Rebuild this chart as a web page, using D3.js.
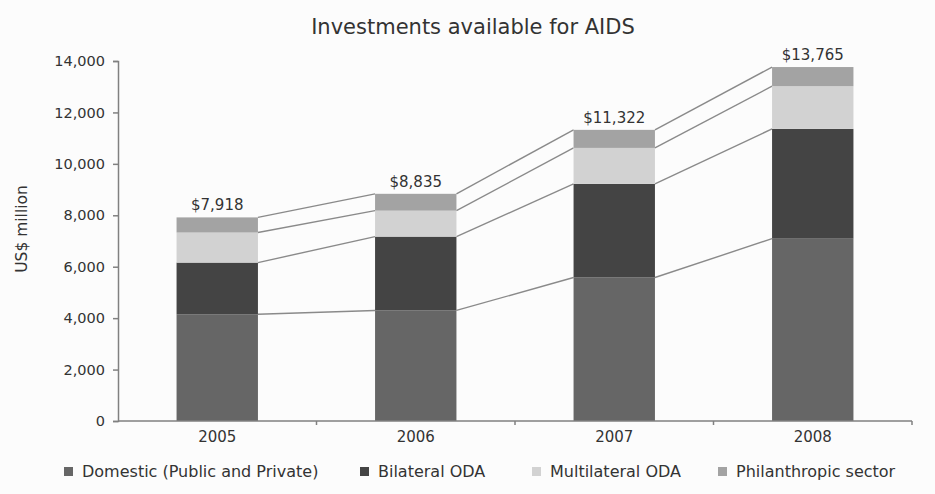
<!DOCTYPE html>
<html>
<head>
<meta charset="utf-8">
<script src="https://cdn.jsdelivr.net/npm/d3@7"></script>
<style>
  body { margin: 0; background: #fcfcfc; }
  text { font-family: "DejaVu Sans", sans-serif; fill: #333; }
</style>
</head>
<body>
<div id="canvas"></div>
<script>
"use strict"

/* drawing size and margins */
let svgWidth = 935;
let svgHeight = 494;
let leftMargin = 118
let rightMargin = 23
let topMargin = 61
let bottomMargin = 73

/* data (US$ million) */
let years = ["2005", "2006", "2007", "2008"];
let seriesNames = ["Domestic (Public and Private)", "Bilateral ODA", "Multilateral ODA", "Philanthropic sector"];
let domestic = [4150, 4300, 5580, 7090];
let bilateral = [2010, 2870, 3640, 4270];
let multilateral = [1170, 1010, 1400, 1660];
let philanthropic = [588, 655, 702, 745];
let totals = [7918, 8835, 11322, 13765];
let totalLabels = ["$7,918", "$8,835", "$11,322", "$13,765"];
let yTicks = [0, 2000, 4000, 6000, 8000, 10000, 12000, 14000];
let colors = ["#666666", "#444444", "#d2d2d2", "#a3a3a3"];

let svg = d3.select("#canvas")
    .append("svg")
    .attr("width", svgWidth)
    .attr("height", svgHeight);

svg.append("rect")
    .attr("width", svgWidth)
    .attr("height", svgHeight)
    .attr("fill", "#fcfcfc");

/* build a table the stack can use */
let table = years.map(function (y, i) {
    return {
        year: y,
        "Domestic (Public and Private)": domestic[i],
        "Bilateral ODA": bilateral[i],
        "Multilateral ODA": multilateral[i],
        "Philanthropic sector": philanthropic[i]
    };
});
let stacked = d3.stack().keys(seriesNames)(table);

let xScale = d3.scaleBand()
    .domain(years)
    .range([leftMargin, svgWidth - rightMargin])
    .paddingInner(0.59)
    .paddingOuter(0.295);

let yScale = d3.scaleLinear()
    .domain([0, 14000])
    .range([svgHeight - bottomMargin, topMargin]);

let colorScale = d3.scaleOrdinal()
    .domain(seriesNames)
    .range(colors);

/* connector lines between the bars */
stacked.forEach(function (layer) {
    for (let i = 0; i < years.length - 1; i++) {
        svg.append("line")
            .attr("x1", xScale(years[i]) + xScale.bandwidth())
            .attr("y1", yScale(layer[i][1]))
            .attr("x2", xScale(years[i + 1]))
            .attr("y2", yScale(layer[i + 1][1]))
            .attr("stroke", "#8a8a8a")
            .attr("stroke-width", 1.4);
    }
});

/* bars */
svg.append("g")
    .selectAll("g")
    .data(stacked)
    .join("g")
    .attr("fill", function (d) { return colorScale(d.key); })
    .selectAll("rect")
    .data(function (d) { return d; })
    .join("rect")
    .attr("x", function (d) { return xScale(d.data.year); })
    .attr("y", function (d) { return yScale(d[1]); })
    .attr("width", xScale.bandwidth())
    .attr("height", function (d) { return yScale(d[0]) - yScale(d[1]); });

/* total labels */
svg.append("g")
    .selectAll("text")
    .data(years)
    .join("text")
    .attr("x", function (d) { return xScale(d) + xScale.bandwidth() / 2; })
    .attr("y", function (d, i) { return yScale(totals[i]) - 7; })
    .attr("text-anchor", "middle")
    .style("font-size", "15px")
    .text(function (d, i) { return totalLabels[i]; });

/* y axis */
let yAxis = svg.append("g")
    .attr("transform", "translate(" + leftMargin + ",0)")
    .call(d3.axisLeft(yScale).tickValues(yTicks).tickSize(5).tickPadding(8).tickFormat(d3.format(",")));
yAxis.select(".domain").attr("stroke", "#808080").attr("stroke-width", 1.5);
yAxis.selectAll(".tick line").attr("stroke", "#808080").attr("stroke-width", 1.5);
yAxis.selectAll(".tick text").style("font-size", "14.5px").style("font-family", "DejaVu Sans").attr("fill", "#333");

/* x axis line and small ticks between categories */
let x0 = yScale(0);
svg.append("line")
    .attr("x1", leftMargin)
    .attr("x2", svgWidth - rightMargin)
    .attr("y1", x0)
    .attr("y2", x0)
    .attr("stroke", "#808080")
    .attr("stroke-width", 1.5);
let step = xScale.step();
for (let i = 1; i <= years.length; i++) {
    let bx = xScale(years[0]) - xScale.paddingOuter() * step + i * step;
    svg.append("line")
        .attr("x1", bx)
        .attr("x2", bx)
        .attr("y1", x0)
        .attr("y2", x0 + 4)
        .attr("stroke", "#808080")
        .attr("stroke-width", 1.5);
}

/* year labels */
svg.append("g")
    .selectAll("text")
    .data(years)
    .join("text")
    .attr("x", function (d) { return xScale(d) + xScale.bandwidth() / 2; })
    .attr("y", x0 + 21)
    .attr("text-anchor", "middle")
    .style("font-size", "15px")
    .text(function (d) { return d; });

/* title */
svg.append("text")
    .attr("x", 473)
    .attr("y", 34)
    .attr("text-anchor", "middle")
    .style("font-size", "21px")
    .text("Investments available for AIDS");

/* y axis label */
svg.append("text")
    .attr("transform", "translate(27,229) rotate(-90)")
    .attr("text-anchor", "middle")
    .style("font-size", "15.5px")
    .text("US$ million");

/* legend */
let legendX = [64, 360, 532, 718];
for (let i = 0; i < seriesNames.length; i++) {
    svg.append("rect")
        .attr("x", legendX[i])
        .attr("y", 467)
        .attr("width", 9)
        .attr("height", 9)
        .attr("fill", colors[i]);
    svg.append("text")
        .attr("x", legendX[i] + 18)
        .attr("y", 471)
        .attr("dominant-baseline", "central")
        .style("font-size", "16px")
        .text(seriesNames[i]);
}
</script>
</body>
</html>
